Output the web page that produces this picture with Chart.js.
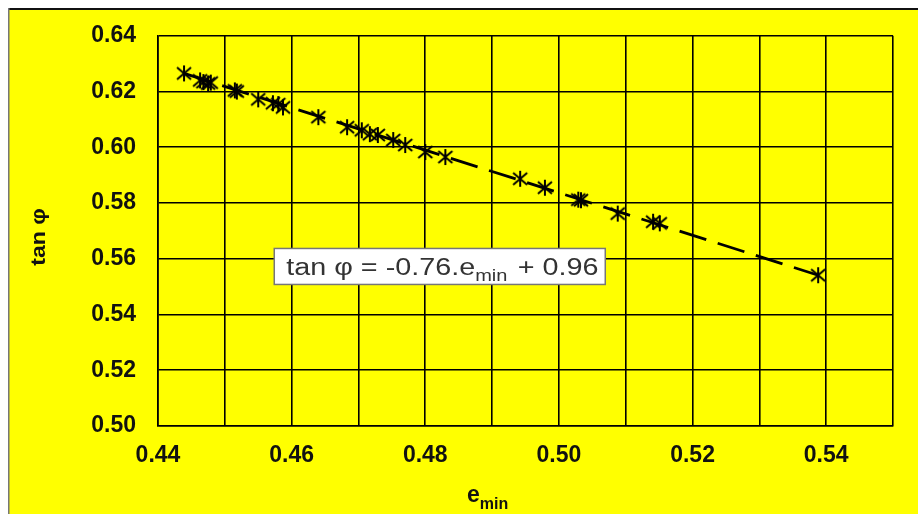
<!DOCTYPE html>
<html>
<head>
<meta charset="utf-8">
<script src="https://cdn.jsdelivr.net/npm/chart.js@4/dist/chart.umd.min.js"></script>
<style>
    html, body { margin: 0; padding: 0; background: #fff; }
    canvas { display: block; }
</style>
</head>
<body>
<canvas id="diagram" width="918" height="514"></canvas>
<script>
    // measured points (e_min, tan phi)
    const eMin = [0.4439, 0.4463, 0.4468, 0.4475, 0.4479, 0.4515, 0.4518, 0.4550, 0.4572, 0.4580, 0.4587,
        0.4640, 0.4683, 0.4705, 0.4717, 0.4729, 0.4752, 0.4770, 0.4800, 0.4830,
        0.4942, 0.4979, 0.5029, 0.5033, 0.5088, 0.5141, 0.5151, 0.5388];
    const tanPhi = [0.6265, 0.6240, 0.6234, 0.6229, 0.6232, 0.6204, 0.6200, 0.6172, 0.6158, 0.6155, 0.6143,
        0.6108, 0.6072, 0.6061, 0.6047, 0.6044, 0.6026, 0.6008, 0.5983, 0.5965,
        0.5887, 0.5855, 0.5812, 0.5810, 0.5762, 0.5733, 0.5727, 0.5541];

    // fitted line end points
    const trendE = [0.4439, 0.5388];
    const trendTan = [0.6265, 0.5541];

    const xTicks = { min: 0.44, max: 0.55, step: 0.01 };
    const yTicks = { min: 0.50, max: 0.64, step: 0.02 };

    const egyenlet = { elotte: 'tan φ = -0.76.e', index: 'min', utana: ' + 0.96' };

    function csillagJel() {
        const c = document.createElement('canvas');
        c.width = 18; c.height = 18;
        const g = c.getContext('2d');
        g.strokeStyle = '#000';
        g.lineWidth = 2;
        g.beginPath();
        g.moveTo(2, 3); g.lineTo(16, 15);
        g.moveTo(16, 3); g.lineTo(2, 15);
        g.moveTo(9, 1); g.lineTo(9, 17);
        g.stroke();
        return c;
    }

    function parosCimke(value) {
        const v = Math.round(value * 100);
        return v % 2 === 0 ? (v / 100).toFixed(2) : '';
    }

    const hatterPlugin = {
        id: 'hatter',
        beforeDraw(chart) {
            const ctx = chart.ctx;
            ctx.save();
            ctx.fillStyle = '#fff';
            ctx.fillRect(0, 0, chart.width, chart.height);
            ctx.fillStyle = '#ffff00';
            ctx.fillRect(9, 10, chart.width - 9, chart.height - 10);
            ctx.fillStyle = '#111';
            ctx.fillRect(8, 8, chart.width - 8, 2);
            ctx.fillStyle = '#777';
            ctx.fillRect(8, 8, 1.5, chart.height - 8);
            ctx.restore();
        }
    };

    const feliratPlugin = {
        id: 'feliratok',
        afterDraw(chart) {
            const ctx = chart.ctx;
            const xs = chart.scales.x, ys = chart.scales.y;
            ctx.save();

            // y axis title
            ctx.fillStyle = '#111';
            ctx.font = 'bold 21px "Liberation Sans", Arial, sans-serif';
            ctx.textAlign = 'center';
            ctx.textBaseline = 'middle';
            ctx.translate(39, 237);
            ctx.rotate(-Math.PI / 2);
            ctx.scale(1.1, 1);
            ctx.fillText('tan φ', 0, 0);
            ctx.setTransform(1, 0, 0, 1, 0, 0);

            // x axis title with subscript
            ctx.textAlign = 'left';
            ctx.textBaseline = 'alphabetic';
            ctx.font = 'bold 23px "Liberation Sans", Arial, sans-serif';
            const ew = ctx.measureText('e').width;
            ctx.fillText('e', 467, 502);
            ctx.font = 'bold 16px "Liberation Sans", Arial, sans-serif';
            ctx.fillText('min', 467 + ew, 509);

            // equation box
            const bx = xs.getPixelForValue(0.4574);
            const by = ys.getPixelForValue(0.5637);
            const bw = 331, bh = 36;
            ctx.fillStyle = '#fff';
            ctx.fillRect(bx, by, bw, bh);
            ctx.strokeStyle = '#777';
            ctx.lineWidth = 1.5;
            ctx.strokeRect(bx, by, bw, bh);

            ctx.fillStyle = '#333';
            ctx.translate(bx + 12, by + 27);
            ctx.scale(1.25, 1);
            ctx.font = '23px "Liberation Sans", Arial, sans-serif';
            let tx = 0;
            ctx.fillText(egyenlet.elotte, tx, 0);
            tx += ctx.measureText(egyenlet.elotte).width;
            ctx.font = '16px "Liberation Sans", Arial, sans-serif';
            ctx.fillText(egyenlet.index, tx, 6);
            tx += ctx.measureText(egyenlet.index).width;
            ctx.font = '23px "Liberation Sans", Arial, sans-serif';
            ctx.fillText(egyenlet.utana, tx + 2, 0);
            ctx.restore();
        }
    };

    const pontok = eMin.map((e, i) => ({ x: e, y: tanPhi[i] }));
    const trend = trendE.map((e, i) => ({ x: e, y: trendTan[i] }));

    const tengelyBetu = { family: '"Liberation Sans", Arial, sans-serif', size: 23, weight: 'bold' };

    new Chart(document.getElementById('diagram').getContext('2d'), {
        type: 'scatter',
        data: {
            datasets: [
                {
                    label: 'trend',
                    data: trend,
                    showLine: true,
                    borderColor: '#000',
                    borderWidth: 2.8,
                    borderDash: [28, 12],
                    pointRadius: 0
                },
                {
                    label: 'tan φ',
                    data: pontok,
                    pointStyle: csillagJel(),
                    pointRadius: 8,
                    borderColor: '#000'
                }
            ]
        },
        options: {
            responsive: false,
            devicePixelRatio: 1,
            animation: false,
            layout: { padding: { top: 33, right: 25, left: 0, bottom: 0 } },
            plugins: {
                legend: { display: false },
                tooltip: { enabled: false }
            },
            scales: {
                x: {
                    type: 'linear',
                    min: xTicks.min,
                    max: xTicks.max,
                    afterFit(scale) { scale.height = 88; },
                    grid: { color: '#000', lineWidth: 1.6, drawTicks: false },
                    border: { color: '#000', width: 1.6 },
                    ticks: {
                        stepSize: xTicks.step,
                        autoSkip: false,
                        maxRotation: 0,
                        padding: 16,
                        color: '#111',
                        font: tengelyBetu,
                        callback: parosCimke
                    }
                },
                y: {
                    type: 'linear',
                    min: yTicks.min,
                    max: yTicks.max,
                    afterFit(scale) { scale.width = 158; },
                    grid: { color: '#000', lineWidth: 1.6, drawTicks: false },
                    border: { color: '#000', width: 1.6 },
                    ticks: {
                        stepSize: yTicks.step,
                        autoSkip: false,
                        padding: 22,
                        color: '#111',
                        font: tengelyBetu,
                        callback: parosCimke
                    }
                }
            }
        },
        plugins: [hatterPlugin, feliratPlugin]
    });
</script>
</body>
</html>
